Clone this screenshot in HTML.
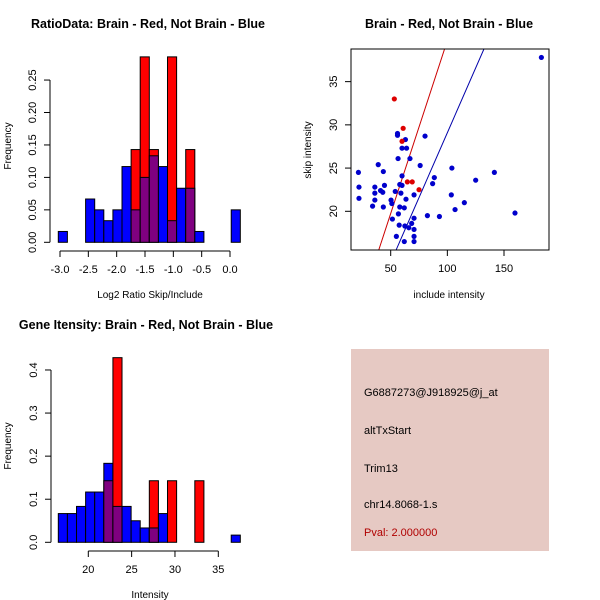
<!DOCTYPE html>
<html><head><meta charset="utf-8"><style>
body{margin:0;background:#fff;}
svg{display:block;font-family:"Liberation Sans",sans-serif;}
</style></head><body>
<svg id="chart" width="600" height="600" viewBox="0 0 600 600">
<rect x="0" y="0" width="600" height="600" fill="#fff"/>
<text x="148" y="28" text-anchor="middle" font-size="12.5" font-weight="bold">RatioData: Brain - Red, Not Brain - Blue</text>
<text x="449" y="28" text-anchor="middle" font-size="12.5" font-weight="bold">Brain - Red, Not Brain - Blue</text>
<text x="146" y="329" text-anchor="middle" font-size="12.5" font-weight="bold">Gene Itensity: Brain - Red, Not Brain - Blue</text>
<text x="150" y="298" text-anchor="middle" font-size="10">Log2 Ratio Skip/Include</text>
<text transform="translate(11,146) rotate(-90)" text-anchor="middle" font-size="10">Frequency</text>
<text x="449" y="298" text-anchor="middle" font-size="10">include intensity</text>
<text transform="translate(311,150) rotate(-90)" text-anchor="middle" font-size="10">skip intensity</text>
<text x="150" y="598" text-anchor="middle" font-size="10">Intensity</text>
<text transform="translate(11,446) rotate(-90)" text-anchor="middle" font-size="10">Frequency</text>
<g id="p1"></g>
<g id="p2"></g>
<g id="p3"></g>
<g>
<rect x="351" y="349" width="198" height="202" fill="#e6c9c3"/>
<text x="364" y="396" font-size="11">G6887273@J918925@j_at</text>
<text x="364" y="434" font-size="11">altTxStart</text>
<text x="364" y="472" font-size="11">Trim13</text>
<text x="364" y="508" font-size="11">chr14.8068-1.s</text>
<text x="364" y="536" font-size="11" fill="#b00000">Pval: 2.000000</text>
</g>
</svg>
<script>
// Ratio histogram data
const ratioStart = -3.03;
const ratioBinWidth = 0.1606;
const ratioBlue = [0.0167,0,0,0.0667,0.05,0.0333,0.05,0.1167,0.05,0.1,0.1333,0.1167,0.0333,0.0833,0.0833,0.0167,0,0,0,0.05];
const ratioRed  = [0,0,0,0,0,0,0,0,0.1429,0.2857,0.1429,0,0.2857,0,0.1429,0,0,0,0,0];
const ratioXTicks = [-3.0,-2.5,-2.0,-1.5,-1.0,-0.5,0.0];
const ratioXLabels = ["-3.0","-2.5","-2.0","-1.5","-1.0","-0.5","0.0"];
const ratioYTicks = [0,0.05,0.10,0.15,0.20,0.25];
const ratioYLabels = ["0.00","0.05","0.10","0.15","0.20","0.25"];
// Intensity histogram data
const intStart = 16.54;
const intBinWidth = 1.05;
const intBlue = [0.0667,0.0667,0.0833,0.1167,0.1167,0.1833,0.0833,0.0833,0.05,0.0333,0.0333,0.0667,0,0,0,0,0,0,0,0.0167];
const intRed  = [0,0,0,0,0,0.1429,0.4286,0,0,0,0.1429,0,0.1429,0,0,0.1429,0,0,0,0];
const intXTicks = [20,25,30,35];
const intYTicks = [0,0.1,0.2,0.3,0.4];
const intYLabels = ["0.0","0.1","0.2","0.3","0.4"];
// Scatter data
const blueInclude = [183,21.5,22,22,39,43.5,36,36,36,34,41,43,44.5,43.5,50.3,51,51.5,54,56,56,63,60,64,56.5,67,56.8,57.5,55,58,59,60,58,62,63.5,60,62.5,66,68.5,70.6,70.6,70.6,70.6,62,70.6,76,80.3,82.4,87,88.5,93,104,103.5,106.8,115,125,141.5,159.7];
const blueSkip    = [37.8,24.5,22.8,21.5,25.4,24.6,22.8,22.1,21.3,20.6,22.4,22.2,23,20.5,21.3,20.9,19.1,22.3,29,28.8,28.3,27.3,27.3,26.1,26.1,19.7,18.4,17.1,23.1,22.1,23,20.5,20.4,21.4,24.1,18.3,18.1,18.6,19.2,17.9,17.1,16.5,16.5,21.9,25.3,28.7,19.5,23.2,23.9,19.4,25,21.9,20.2,21,23.6,24.5,19.8];
const redInclude = [53.2,61,60,64.7,69,75];
const redSkip    = [33,29.6,28.1,23.4,23.4,22.5];
const redLine  = [-0.27, 0.4003];  // intercept, slope
const blueLine = [-0.9, 0.2999];
const scXTicks = [50,100,150];
const scYTicks = [20,25,30,35];

const NS = "http://www.w3.org/2000/svg";
function mk(parent, tag, attrs){const e=document.createElementNS(NS,tag);for(const k in attrs)e.setAttribute(k,attrs[k]);parent.appendChild(e);return e;}

function hist(g, cfg){
  const {start,bw,blue,red,x0px,xScale,y0px,yScale,xTicks,xLabels,yTicks,yLabels,axisY,prefix}=cfg;
  const sx=v=>x0px+(v-cfg.xRef)*xScale, sy=v=>y0px-v*yScale;
  for(let i=0;i<blue.length;i++){
    const l=sx(start+i*bw), r=sx(start+(i+1)*bw);
    const b=blue[i], rd=red[i];
    const top=Math.max(b,rd);
    const fill = b>=rd ? "#0000ff" : "#ff0000";
    const el=mk(g,"rect",{x:l,y:sy(top),width:r-l,height:top*yScale,fill:fill,stroke:"#000","stroke-width":1});
    
    
    if(b>0 && rd>0){
      const m=Math.min(b,rd);
      const p=mk(g,"rect",{x:l,y:sy(m),width:r-l,height:m*yScale,fill:"#7f0080",stroke:"#000","stroke-width":1});
      
      
    }
  }
  const xa=mk(g,"line",{x1:sx(xTicks[0]),x2:sx(xTicks[xTicks.length-1]),y1:axisY,y2:axisY,stroke:"#000"});
  
  
  xTicks.forEach((t,i)=>{
    mk(g,"line",{x1:sx(t),x2:sx(t),y1:axisY,y2:axisY+6,stroke:"#000"});
    const tx=mk(g,"text",{x:sx(t),y:axisY+22,"text-anchor":"middle","font-size":11});
    tx.textContent=xLabels[i];
    
    
  });
  const ax=cfg.axisX;
  const ya=mk(g,"line",{x1:ax,x2:ax,y1:sy(yTicks[0]),y2:sy(yTicks[yTicks.length-1]),stroke:"#000"});
  
  
  yTicks.forEach((t,i)=>{
    mk(g,"line",{x1:ax-6,x2:ax,y1:sy(t),y2:sy(t),stroke:"#000"});
    const tx=mk(g,"text",{transform:`translate(${ax-14},${sy(t)}) rotate(-90)`,"text-anchor":"middle","font-size":11});
    tx.textContent=yLabels[i];
    
    
  });
}

hist(document.getElementById("p1"),{start:ratioStart,bw:ratioBinWidth,blue:ratioBlue,red:ratioRed,
  xRef:-3,x0px:60,xScale:56.67,y0px:242.3,yScale:649,xTicks:ratioXTicks,xLabels:ratioXLabels,
  yTicks:ratioYTicks,yLabels:ratioYLabels,axisY:251,axisX:50,prefix:'ratio'});
hist(document.getElementById("p3"),{start:intStart,bw:intBinWidth,blue:intBlue,red:intRed,
  xRef:20,x0px:88.3,xScale:8.667,y0px:542.3,yScale:430.8,xTicks:intXTicks,xLabels:intXTicks.map(String),
  yTicks:intYTicks,yLabels:intYLabels,axisY:551,axisX:51,prefix:'intensity'});

(function(){
  const g=document.getElementById("p2");
  const L=351,R=549,T=49,B=250;
  const sx=v=>390.7+(v-50)*1.133, sy=v=>211.3-(v-20)*8.644;
  const defs=mk(g,"defs",{});
  const cp=mk(defs,"clipPath",{id:"clipbox"});
  mk(cp,"rect",{x:L,y:T,width:R-L,height:B-T});
  [[redLine,"#cc0000","red-fit-line"],[blueLine,"#0000aa","blue-fit-line"]].forEach(([ln,c,n])=>{
    const xa=0,xb=200;
    const el=mk(g,"line",{x1:sx(xa),y1:sy(ln[0]+ln[1]*xa),x2:sx(xb),y2:sy(ln[0]+ln[1]*xb),stroke:c,"stroke-width":1,"clip-path":"url(#clipbox)"});
    
    
  });
  blueInclude.forEach((x,i)=>{
    const c=mk(g,"circle",{cx:sx(x),cy:sy(blueSkip[i]),r:2.6,fill:"#0000cc"});
    
    
  });
  redInclude.forEach((x,i)=>{
    const c=mk(g,"circle",{cx:sx(x),cy:sy(redSkip[i]),r:2.6,fill:"#dd0000"});
    
    
  });
  const box=mk(g,"rect",{x:L,y:T,width:R-L,height:B-T,fill:"none",stroke:"#000"});
  
  
  scXTicks.forEach(t=>{
    mk(g,"line",{x1:sx(t),x2:sx(t),y1:B,y2:B+6,stroke:"#000"});
    const tx=mk(g,"text",{x:sx(t),y:B+22,"text-anchor":"middle","font-size":11});
    tx.textContent=String(t);
    
    
  });
  scYTicks.forEach(t=>{
    mk(g,"line",{x1:L-6,x2:L,y1:sy(t),y2:sy(t),stroke:"#000"});
    const tx=mk(g,"text",{transform:`translate(${L-14},${sy(t)}) rotate(-90)`,"text-anchor":"middle","font-size":11});
    tx.textContent=String(t);
    
    
  });
})();
</script>
</body></html>
